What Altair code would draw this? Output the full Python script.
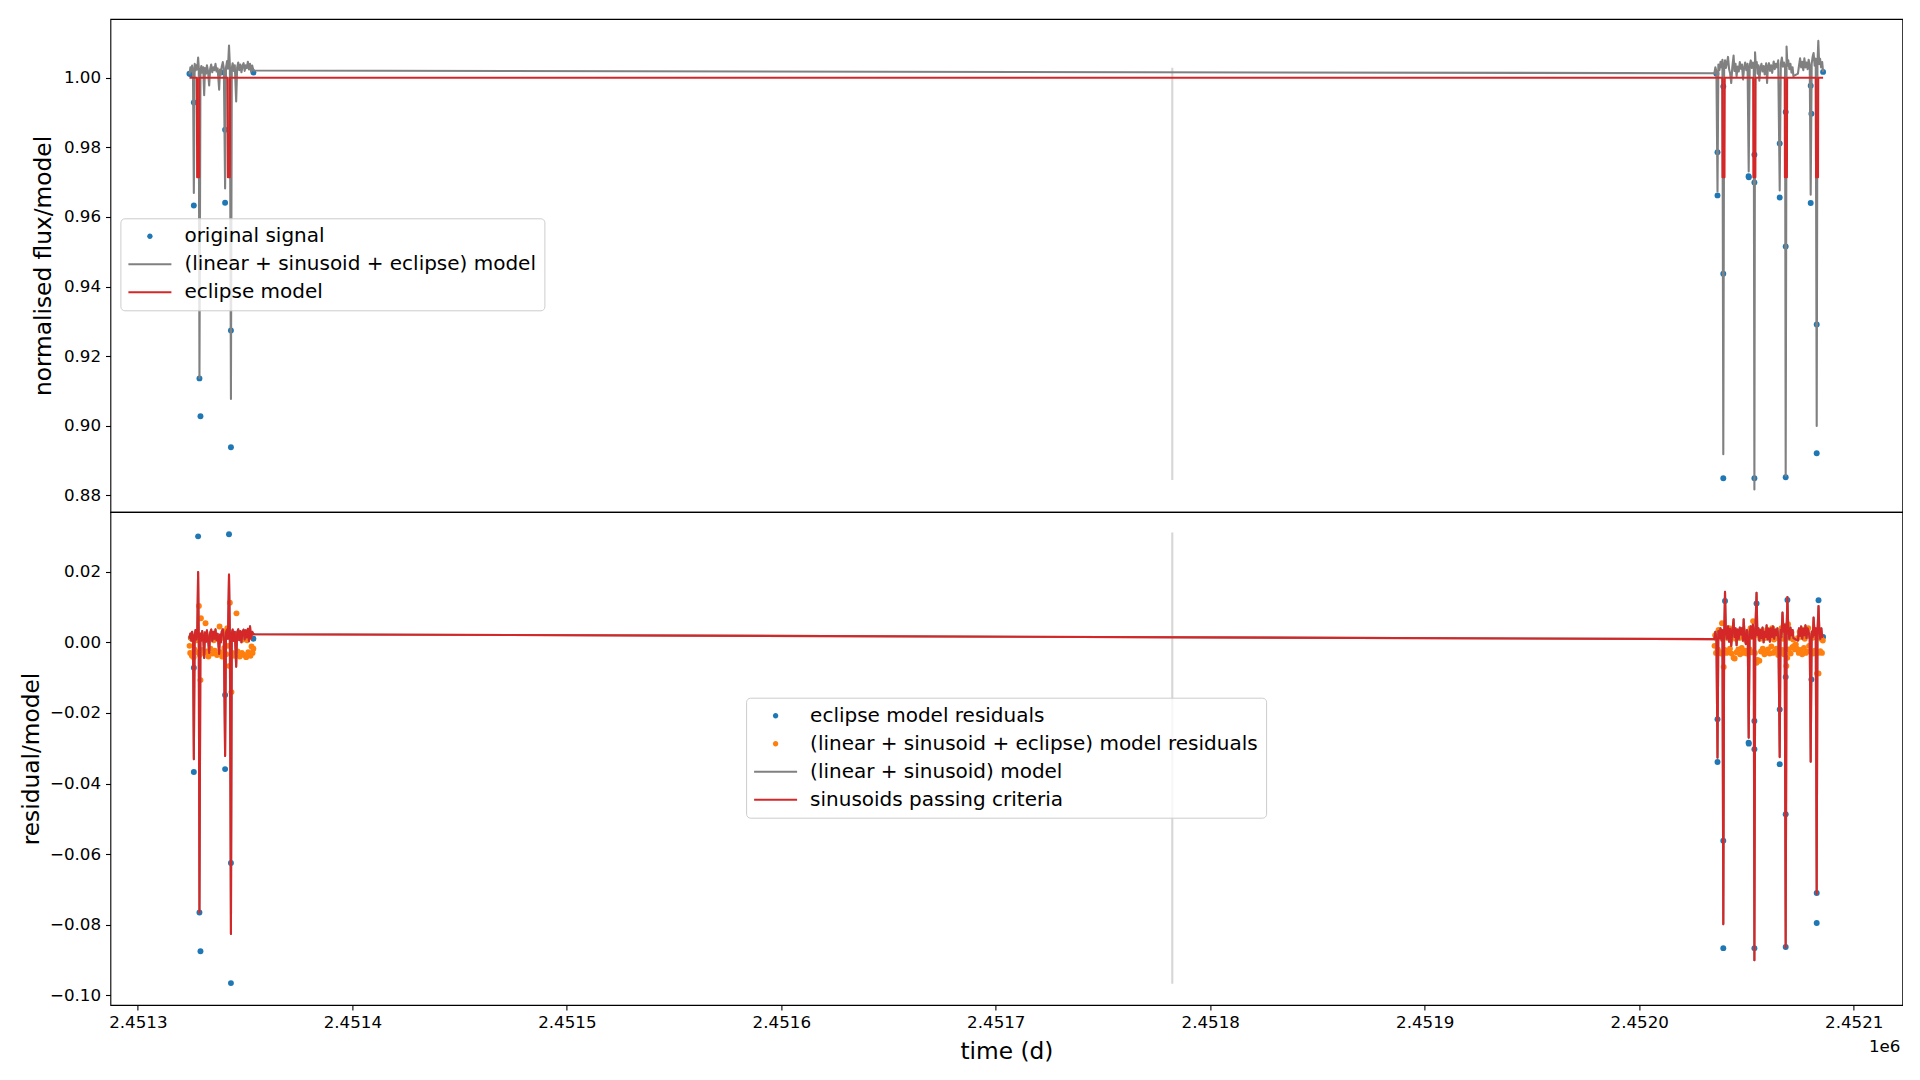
import altair as alt
import pandas as pd

# ---------------- data (times are days after T0) ----------------
T0 = 2451300.0

X_DOMAIN = [2451287.2, 2452122.7]
TOP_DOMAIN = [0.8752, 1.0169]
BOT_DOMAIN = [-0.1027, 0.0369]
X_TICKS = [2451300, 2451400, 2451500, 2451600, 2451700, 2451800, 2451900, 2452000, 2452100]
TOP_TICKS = [0.88, 0.90, 0.92, 0.94, 0.96, 0.98, 1.00]
BOT_TICKS = [-0.10, -0.08, -0.06, -0.04, -0.02, 0.00, 0.02]

# top panel: original signal (points)
signal = [(24.06, 1.0012), (24.7, 1.0010), (26.1, 0.9929), (26.1, 0.9633), (28.72, 0.9136),
          (29.19, 0.9027), (38.7, 1.0015), (40.68, 0.9851), (40.68, 0.9641), (43.4, 0.9274),
          (43.4, 0.8938), (53.9, 1.0015), (735.98, 1.0012), (736.5, 0.9786), (736.5, 0.9662),
          (739.2, 0.9975), (739.2, 0.9437), (739.2, 0.8849), (751.0, 0.9717), (751.1, 0.9714),
          (753.7, 0.9779), (753.7, 0.9699), (753.7, 0.8849), (765.5, 0.9811), (765.5, 0.9656),
          (768.29, 0.9902), (768.29, 0.9515), (768.29, 0.8852), (779.95, 0.9977), (779.95, 0.9640),
          (780.28, 0.9897), (782.75, 0.9291), (782.75, 0.8921), (785.73, 1.0017)]

# top panel: (linear + sinusoid + eclipse) model
full_model = [
    (24.06, 1.0010), (24.5, 1.0030), (24.9, 1.0018), (25.3, 1.0035), (25.7, 1.0022),
    (26.1, 0.9669), (26.5, 1.0040), (26.9, 1.0021), (27.3, 1.0036), (27.7, 1.0024),
    (28.1, 1.0058), (28.4, 1.0030), (28.72, 0.9137), (29.19, 1.0020), (29.6, 1.0034),
    (30.0, 1.0015), (30.5, 1.0030), (30.92, 0.9950), (31.3, 1.0028), (31.8, 1.0012),
    (32.2, 1.0036), (32.7, 1.0020), (33.25, 0.9978), (33.7, 1.0025), (34.2, 1.0038),
    (34.7, 1.0016), (35.2, 1.0030), (35.7, 1.0022), (36.2, 1.0040), (36.7, 1.0018),
    (37.2, 1.0027), (37.91, 0.9966), (38.3, 1.0024), (38.7, 1.0010), (39.1, 1.0032),
    (39.6, 1.0045), (40.1, 1.0026), (40.68, 0.9682), (41.1, 1.0030), (41.6, 1.0048),
    (42.0, 1.0026), (42.5, 1.0093), (42.9, 1.0035), (43.4, 0.9077), (43.8, 1.0028),
    (44.2, 1.0042), (44.7, 1.0020), (45.2, 1.0036), (45.84, 0.9932), (46.3, 1.0030),
    (46.8, 1.0044), (47.3, 1.0022), (47.8, 1.0038), (48.3, 1.0016), (48.8, 1.0034),
    (49.3, 1.0042), (49.8, 1.0020), (50.3, 1.0036), (50.8, 1.0028), (51.3, 1.0046),
    (51.8, 1.0024), (52.3, 1.0040), (52.8, 1.0018), (53.3, 1.0035), (53.9, 1.0021),
    (735.05, 1.0013), (735.5, 1.0030), (736.0, 1.0018), (736.5, 0.9673), (736.9, 1.0038),
    (737.4, 1.0022), (737.9, 1.0046), (738.4, 1.0030), (738.8, 1.0052), (739.2, 0.8918),
    (739.6, 1.0035), (740.0, 1.0050), (740.4, 1.0028), (740.9, 1.0042), (741.4, 1.0060),
    (741.9, 1.0025), (742.4, 1.0012), (742.9, 0.9985), (743.4, 1.0030), (744.0, 1.0064),
    (744.4, 1.0020), (744.9, 1.0040), (745.4, 1.0005), (745.9, 1.0032), (746.4, 1.0018),
    (746.9, 1.0045), (747.4, 1.0026), (747.9, 1.0038), (748.4, 0.9995), (748.9, 1.0030),
    (749.4, 1.0044), (749.9, 1.0022), (750.5, 1.0040), (751.04, 0.9731), (751.5, 1.0035),
    (752.0, 1.0050), (752.5, 1.0028), (753.0, 1.0044), (753.4, 1.0030), (753.7, 0.8817),
    (754.0, 1.0073), (754.4, 1.0030), (754.8, 1.0045), (755.2, 1.0012), (755.6, 1.0036),
    (756.0, 0.9992), (756.5, 1.0028), (757.0, 1.0040), (757.5, 1.0018), (758.0, 1.0034),
    (758.5, 1.0010), (759.2, 1.0042), (759.6, 0.9985), (760.0, 1.0030), (760.5, 1.0042),
    (761.0, 1.0020), (761.5, 1.0036), (762.0, 1.0014), (762.7, 1.0047), (763.2, 1.0025),
    (763.7, 1.0040), (764.2, 1.0030), (764.8, 1.0050), (765.5, 0.9676), (766.0, 1.0040),
    (766.5, 1.0058), (767.0, 1.0032), (767.5, 1.0044), (768.0, 1.0030), (768.29, 0.8856),
    (768.7, 1.0090), (769.1, 1.0035), (769.5, 1.0050), (770.0, 1.0025), (770.5, 1.0040),
    (771.0, 1.0015), (771.5, 1.0030), (771.9, 1.0005), (774.0, 1.0012), (774.5, 1.0035),
    (775.0, 1.0056), (775.5, 1.0030), (776.0, 1.0046), (776.5, 1.0022), (777.0, 1.0056),
    (777.5, 1.0030), (778.0, 1.0044), (778.5, 1.0025), (779.0, 1.0052), (779.5, 1.0034),
    (779.95, 0.9664), (780.4, 1.0040), (780.9, 1.0062), (781.3, 1.0071), (781.8, 1.0035),
    (782.3, 1.0055), (782.75, 0.8999), (783.1, 1.0040), (783.5, 1.0106), (783.9, 1.0040),
    (784.3, 1.0055), (784.8, 1.0030), (785.3, 1.0045), (785.73, 1.0017)]

# top panel: eclipse model
eclipse_model = [
    (24.06, 1.0), (27.55, 1.0), (27.65, 0.9714), (28.55, 0.9714), (28.65, 1.0),
    (41.9, 1.0), (42.0, 0.9714), (42.9, 0.9714), (43.0, 1.0),
    (738.75, 1.0), (738.85, 0.9714), (739.75, 0.9714), (739.85, 1.0),
    (753.15, 1.0), (753.25, 0.9714), (754.15, 0.9714), (754.25, 1.0),
    (767.85, 1.0), (767.95, 0.9714), (768.85, 0.9714), (768.95, 1.0),
    (782.35, 1.0), (782.45, 0.9714), (783.35, 0.9714), (783.45, 1.0), (785.73, 1.0)]

# bottom panel: eclipse model residuals (points)
ecl_resid = [(24.7, 0.0013), (26.1, -0.0072), (26.1, -0.0367), (28.1, 0.0300), (28.72, -0.0765),
             (29.19, -0.0875), (40.68, -0.0149), (40.68, -0.0359), (42.5, 0.0306), (43.4, -0.0625),
             (43.4, -0.0965), (53.9, 0.0010), (735.98, 0.0015), (736.5, -0.0218), (736.5, -0.0339),
             (739.2, -0.0562), (739.2, -0.0866), (740.0, 0.0117), (751.0, -0.0284), (751.1, -0.0287),
             (753.7, -0.0223), (753.7, -0.0303), (753.7, -0.0866), (754.7, 0.0110), (765.5, -0.0190),
             (765.5, -0.0345), (768.29, -0.0098), (768.29, -0.0487), (768.29, -0.0863), (769.1, 0.0120),
             (780.28, -0.0105), (782.75, -0.0710), (782.75, -0.0795), (783.6, 0.0119), (785.73, 0.0015)]

# bottom panel: (linear + sinusoid + eclipse) model residuals (points)
full_resid = [
    (24.1, -0.0010), (24.4, -0.0030), (24.8, 0.0012), (25.2, -0.0038), (25.6, 0.0008),
    (26.0, -0.0042), (26.4, -0.0020), (26.8, 0.0016), (27.2, -0.0028), (27.6, 0.0006),
    (28.45, 0.0103), (28.9, -0.0035), (29.2, -0.0107), (29.4, 0.0068), (29.8, -0.0022),
    (30.2, 0.0010), (30.6, -0.0030), (31.0, 0.0018), (31.55, 0.0054), (32.0, -0.0026),
    (32.4, 0.0008), (32.9, -0.0040), (33.4, 0.0014), (33.9, -0.0018), (34.4, 0.0022),
    (34.9, -0.0032), (35.4, 0.0006), (35.9, -0.0024), (36.4, 0.0016), (36.9, -0.0036),
    (37.4, 0.0010), (38.1, 0.0045), (38.5, -0.0028), (38.9, 0.0012), (39.3, -0.0040),
    (39.8, 0.0020), (40.3, -0.0016), (40.8, 0.0030), (41.2, -0.0034), (41.7, 0.0040),
    (42.1, -0.0010), (42.7, -0.0067), (42.9, 0.0112), (43.4, 0.0025), (43.65, -0.0141),
    (44.0, -0.0030), (44.4, 0.0016), (44.9, -0.0038), (45.4, 0.0010), (45.98, 0.0082),
    (46.5, -0.0026), (47.0, 0.0012), (47.5, -0.0040), (48.0, 0.0018), (48.5, -0.0030),
    (49.0, 0.0008), (49.5, -0.0036), (50.0, 0.0014), (50.5, -0.0042), (51.0, 0.0006),
    (51.5, -0.0028), (52.0, 0.0020), (52.5, -0.0038), (53.0, -0.0012), (53.5, -0.0030),
    (53.9, -0.0018),
    (735.1, -0.0010), (735.4, 0.0020), (735.8, -0.0030), (736.2, 0.0010), (736.6, -0.0020),
    (737.0, 0.0035), (737.4, -0.0028), (737.8, 0.0015), (738.2, -0.0032), (738.6, 0.0054),
    (739.38, -0.0070), (739.9, -0.0022), (740.3, 0.0030), (740.7, -0.0030), (741.1, 0.0012),
    (741.5, -0.0026), (741.9, 0.0040), (742.3, -0.0018), (742.7, 0.0008), (743.1, -0.0032),
    (743.5, 0.0022), (744.0, -0.0044), (744.5, -0.0046), (745.0, 0.0010), (745.4, -0.0028),
    (745.8, 0.0030), (746.2, -0.0020), (746.6, 0.0012), (747.0, -0.0034), (747.4, 0.0026),
    (747.8, -0.0016), (748.2, 0.0036), (748.6, -0.0030), (749.0, 0.0008), (749.4, -0.0024),
    (749.8, 0.0018), (750.2, -0.0032), (750.6, 0.0028), (751.5, -0.0020), (751.9, 0.0040),
    (752.3, -0.0028), (752.7, 0.0015), (753.1, 0.0060), (753.9, -0.0030), (754.7, -0.0058),
    (755.2, -0.0050), (755.6, 0.0020), (756.0, -0.0052), (756.4, 0.0010), (756.8, -0.0026),
    (757.2, 0.0032), (757.6, -0.0018), (758.0, 0.0022), (758.4, -0.0034), (758.8, 0.0012),
    (759.2, -0.0028), (759.6, 0.0036), (760.0, -0.0020), (760.4, 0.0014), (760.8, -0.0032),
    (761.2, 0.0026), (761.6, -0.0012), (762.0, 0.0040), (762.4, -0.0030), (762.8, 0.0008),
    (763.2, -0.0026), (763.6, 0.0030), (764.0, -0.0018), (764.4, 0.0012), (764.8, -0.0036),
    (765.2, 0.0024), (765.9, -0.0030), (766.3, 0.0040), (766.7, -0.0022), (767.1, 0.0010),
    (767.5, -0.0034), (767.9, 0.0026), (768.6, -0.0067), (769.0, -0.0044), (769.4, 0.0051),
    (769.8, -0.0020), (770.2, 0.0012), (770.6, -0.0032), (771.0, 0.0028), (771.4, -0.0014),
    (771.8, 0.0008), (772.2, -0.0010), (772.6, -0.0020), (773.0, -0.0006), (773.5, -0.0018),
    (774.0, 0.0012), (774.4, -0.0030), (774.8, 0.0030), (775.2, -0.0022), (775.6, 0.0016),
    (776.0, -0.0034), (776.4, 0.0036), (776.8, -0.0016), (777.2, 0.0010), (777.6, -0.0030),
    (778.0, 0.0022), (778.4, -0.0026), (778.8, 0.0040), (779.2, -0.0010), (779.6, 0.0018),
    (780.2, -0.0028), (780.6, 0.0012), (781.0, -0.0032), (781.5, 0.0030), (781.9, -0.0024),
    (782.3, 0.0014), (782.9, -0.0088), (783.3, -0.0030), (783.6, -0.0088), (784.0, 0.0015),
    (784.4, -0.0025), (784.8, 0.0010), (785.2, -0.0030), (785.6, 0.0005)]

# bottom panel: sinusoid model (drawn as both "(linear + sinusoid) model" and "sinusoids passing criteria")
sinusoid_model = [
    (24.06, 0.0010), (24.5, 0.0025), (24.9, 0.0005), (25.3, 0.0030), (25.7, 0.0012),
    (26.1, -0.0331), (26.5, 0.0020), (26.9, 0.0035), (27.3, 0.0008), (27.7, 0.0030),
    (28.1, 0.0199), (28.4, 0.0015), (28.72, -0.0765), (29.19, 0.0025), (29.6, 0.0005),
    (30.0, 0.0032), (30.5, 0.0010), (30.92, -0.0044), (31.3, 0.0028), (31.8, 0.0002),
    (32.2, 0.0034), (32.7, 0.0012), (33.25, -0.0030), (33.7, 0.0026), (34.2, 0.0036),
    (34.7, 0.0004), (35.2, 0.0030), (35.7, 0.0010), (36.2, 0.0037), (36.7, 0.0006),
    (37.2, 0.0024), (37.91, -0.0033), (38.3, 0.0022), (38.7, 0.0000), (39.1, 0.0030),
    (39.6, 0.0037), (40.1, 0.0012), (40.68, -0.0322), (41.1, 0.0028), (41.6, 0.0036),
    (42.0, 0.0010), (42.5, 0.0192), (42.9, 0.0020), (43.4, -0.0826), (43.8, 0.0026),
    (44.2, 0.0036), (44.7, 0.0004), (45.2, 0.0030), (45.84, -0.0069), (46.3, 0.0028),
    (46.8, 0.0037), (47.3, 0.0006), (47.8, 0.0032), (48.3, 0.0000), (48.8, 0.0030),
    (49.3, 0.0036), (49.8, 0.0008), (50.3, 0.0034), (50.8, 0.0014), (51.3, 0.0038),
    (51.8, 0.0004), (52.3, 0.0045), (52.8, 0.0010), (53.3, 0.0030), (53.9, 0.0023),
    (735.05, 0.0009), (735.5, 0.0030), (736.0, 0.0008), (736.5, -0.0327), (736.9, 0.0032),
    (737.4, 0.0012), (737.9, 0.0040), (738.4, 0.0005), (738.8, 0.0035), (739.2, -0.0798),
    (739.6, 0.0020), (740.0, 0.0143), (740.4, 0.0030), (740.9, 0.0010), (741.4, 0.0045),
    (741.9, 0.0002), (742.4, 0.0038), (742.9, -0.0010), (743.4, 0.0032), (744.0, 0.0065),
    (744.4, 0.0015), (744.9, 0.0040), (745.4, -0.0008), (745.9, 0.0036), (746.4, 0.0010),
    (746.9, 0.0042), (747.4, 0.0022), (747.9, 0.0040), (748.4, 0.0005), (748.7, 0.0065),
    (749.2, 0.0015), (749.7, -0.0005), (750.2, 0.0035), (750.6, 0.0010), (751.04, -0.0270),
    (751.5, 0.0030), (752.0, 0.0045), (752.5, 0.0012), (753.0, 0.0050), (753.4, 0.0020),
    (753.7, -0.0900), (754.1, 0.0025), (754.7, 0.0140), (755.1, 0.0020), (755.6, 0.0040),
    (756.0, 0.0005), (756.5, 0.0035), (757.0, 0.0012), (757.5, 0.0042), (758.0, 0.0000),
    (758.5, 0.0030), (759.0, 0.0015), (759.4, 0.0048), (759.9, 0.0008), (760.4, 0.0038),
    (760.9, 0.0002), (761.4, 0.0040), (761.9, 0.0015), (762.4, 0.0045), (762.9, 0.0010),
    (763.4, 0.0036), (763.9, 0.0020), (764.4, 0.0040), (764.9, 0.0010), (765.5, -0.0325),
    (765.9, 0.0035), (766.3, 0.0015), (766.8, 0.0084), (767.3, 0.0030), (767.8, 0.0050),
    (768.29, -0.0864), (768.7, 0.0030), (769.1, 0.0128), (769.5, 0.0035), (770.0, 0.0010),
    (770.5, 0.0042), (771.0, 0.0020), (771.5, 0.0035), (771.9, 0.0012), (774.0, 0.0005),
    (774.5, 0.0040), (775.0, 0.0018), (775.5, 0.0045), (776.0, 0.0010), (776.5, 0.0038),
    (777.0, 0.0020), (777.5, 0.0048), (778.0, 0.0012), (778.5, 0.0040), (779.0, 0.0030),
    (779.5, 0.0010), (779.95, -0.0338), (780.4, 0.0030), (780.9, 0.0015), (781.3, 0.0070),
    (781.8, 0.0020), (782.3, 0.0040), (782.75, -0.0713), (783.1, 0.0025), (783.6, 0.0103),
    (784.0, 0.0030), (784.4, 0.0010), (784.9, 0.0040), (785.3, 0.0015), (785.73, 0.0020)]

# light vertical marker line
vline_t = 482.3
vline_top = [0.8844, 1.0029]
vline_bot = [-0.0967, 0.0311]

TOP_SERIES = ["original signal", "(linear + sinusoid + eclipse) model", "eclipse model"]
TOP_COLORS = ["#1f77b4", "#808080", "#d62728"]
BOT_SERIES = ["eclipse model residuals", "(linear + sinusoid + eclipse) model residuals",
              "(linear + sinusoid) model", "sinusoids passing criteria"]
BOT_COLORS = ["#1f77b4", "#ff7f0e", "#808080", "#d62728"]

# ---------------- layout constants ----------------
W, H = 1792, 493
FONT = "DejaVu Sans"
LW = 2.1
DOT = 35

# legend glyphs (unit box scaled by sqrt(symbolSize)/2 = 5 px)
LINE_PATH = "M-2,-0.21H6.6V0.21H-2Z"
DOT_PATH = "M1.76,0A0.54,0.54,0,1,1,2.84,0A0.54,0.54,0,1,1,1.76,0Z"


def frame(pairs, name):
    return pd.DataFrame({
        "t": [T0 + p[0] for p in pairs],
        "v": [p[1] for p in pairs],
        "series": name,
        "i": list(range(len(pairs))),
    })


def make_legend(lx, ly):
    return alt.Legend(
        title=None, orient="none", legendX=lx, legendY=ly, direction="vertical",
        labelFont=FONT, labelFontSize=20, labelColor="black", labelLimit=1000,
        symbolSize=100, symbolStrokeWidth=0, symbolOpacity=1,
        labelOffset=36, rowPadding=8, padding=8,
        fillColor="rgba(255,255,255,0.8)", strokeColor="#cccccc", cornerRadius=4,
    )


xscale = alt.Scale(domain=X_DOMAIN, nice=False, zero=False)

# ---------------- top panel ----------------
top_cscale = alt.Scale(domain=TOP_SERIES, range=TOP_COLORS)
top_sscale = alt.Scale(domain=TOP_SERIES, range=[DOT_PATH, LINE_PATH, LINE_PATH])
top_leg = make_legend(10, 199.3)
top_color = alt.Color("series:N", scale=top_cscale, legend=top_leg)
top_x = alt.X("t:Q", scale=xscale, axis=None)
top_yscale = alt.Scale(domain=TOP_DOMAIN, nice=False, zero=False)
top_y = alt.Y("v:Q", scale=top_yscale,
              axis=alt.Axis(values=TOP_TICKS, format=".2f", title="normalised flux/model",
                            titlePadding=8.1))

top_key = alt.Chart(frame(signal, TOP_SERIES[0])).mark_point(
    filled=True, opacity=0, size=100, clip=True).encode(
    x=top_x, y=top_y, color=top_color,
    shape=alt.Shape("series:N", scale=top_sscale, legend=top_leg))

vtop = pd.DataFrame({"t": [T0 + vline_t], "a": [vline_top[0]], "b": [vline_top[1]]})
top_rule = alt.Chart(vtop).mark_rule(color="#d6d6d6", strokeWidth=LW).encode(
    x=top_x, y=alt.Y("a:Q", scale=top_yscale), y2="b:Q")

top_pts = alt.Chart(frame(signal, TOP_SERIES[0])).mark_circle(size=DOT, opacity=1, clip=True).encode(
    x=top_x, y=top_y, color=top_color)
top_model = alt.Chart(frame(full_model, TOP_SERIES[1])).mark_line(
    strokeWidth=LW, strokeJoin="round", clip=True).encode(
    x=top_x, y=top_y, color=top_color, order="i:Q")
top_ecl = alt.Chart(frame(eclipse_model, TOP_SERIES[2])).mark_line(
    strokeWidth=LW, strokeJoin="round", clip=True).encode(
    x=top_x, y=top_y, color=top_color, order="i:Q")

top = alt.layer(top_key, top_rule, top_pts, top_model, top_ecl).properties(width=W, height=H)

# ---------------- bottom panel ----------------
bot_cscale = alt.Scale(domain=BOT_SERIES, range=BOT_COLORS)
bot_sscale = alt.Scale(domain=BOT_SERIES, range=[DOT_PATH, DOT_PATH, LINE_PATH, LINE_PATH])
bot_leg = make_legend(635.7, 185.7)
bot_color = alt.Color("series:N", scale=bot_cscale, legend=bot_leg)
bot_x = alt.X("t:Q", scale=xscale,
              axis=alt.Axis(values=X_TICKS, labelExpr="format(datum.value / 1000000, '.4f')",
                            title="time (d)", titlePadding=9.3))
bot_yscale = alt.Scale(domain=BOT_DOMAIN, nice=False, zero=False)
bot_y = alt.Y("v:Q", scale=bot_yscale,
              axis=alt.Axis(values=BOT_TICKS, format=".2f", title="residual/model"))

bot_key = alt.Chart(frame(ecl_resid, BOT_SERIES[0])).mark_point(
    filled=True, opacity=0, size=100, clip=True).encode(
    x=bot_x, y=bot_y, color=bot_color,
    shape=alt.Shape("series:N", scale=bot_sscale, legend=bot_leg))

vbot = pd.DataFrame({"t": [T0 + vline_t], "a": [vline_bot[0]], "b": [vline_bot[1]]})
bot_rule = alt.Chart(vbot).mark_rule(color="#d6d6d6", strokeWidth=LW).encode(
    x=bot_x, y=alt.Y("a:Q", scale=bot_yscale), y2="b:Q")

bot_ecl = alt.Chart(frame(ecl_resid, BOT_SERIES[0])).mark_circle(size=DOT, opacity=1, clip=True).encode(
    x=bot_x, y=bot_y, color=bot_color)
bot_full = alt.Chart(frame(full_resid, BOT_SERIES[1])).mark_circle(size=DOT, opacity=1, clip=True).encode(
    x=bot_x, y=bot_y, color=bot_color)
bot_lin = alt.Chart(frame(sinusoid_model, BOT_SERIES[2])).mark_line(
    strokeWidth=LW, strokeJoin="round", clip=True).encode(
    x=bot_x, y=bot_y, color=bot_color, order="i:Q")
bot_sin = alt.Chart(frame(sinusoid_model, BOT_SERIES[3])).mark_line(
    strokeWidth=LW, strokeJoin="round", clip=True).encode(
    x=bot_x, y=bot_y, color=bot_color, order="i:Q")

offset_txt = alt.Chart(pd.DataFrame({"txt": ["1e6"]})).mark_text(
    align="right", baseline="middle", font=FONT, fontSize=16.7, color="black").encode(
    x=alt.value(W - 2), y=alt.value(H + 42), text="txt:N")

bottom = alt.layer(bot_key, bot_rule, bot_ecl, bot_full, bot_lin, bot_sin, offset_txt).properties(
    width=W, height=H)

chart = alt.vconcat(top, bottom, spacing=0, bounds="flush").resolve_scale(
    color="independent", shape="independent").resolve_legend(
    color="independent", shape="independent").properties(
    padding={"left": 18.4, "top": 18, "right": 0, "bottom": 0},
    background="white",
).configure_view(stroke="black", strokeWidth=1.1).configure_axis(
    labelFont=FONT, titleFont=FONT, labelFontSize=16.7, titleFontSize=23.3,
    titleFontWeight="normal", labelColor="black", titleColor="black",
    tickColor="black", tickWidth=1.1, tickSize=4.9, labelPadding=4.9,
    titlePadding=5.6, grid=False, domain=False,
)

chart.save("out.html", embed_options={"renderer": "svg", "actions": False})
